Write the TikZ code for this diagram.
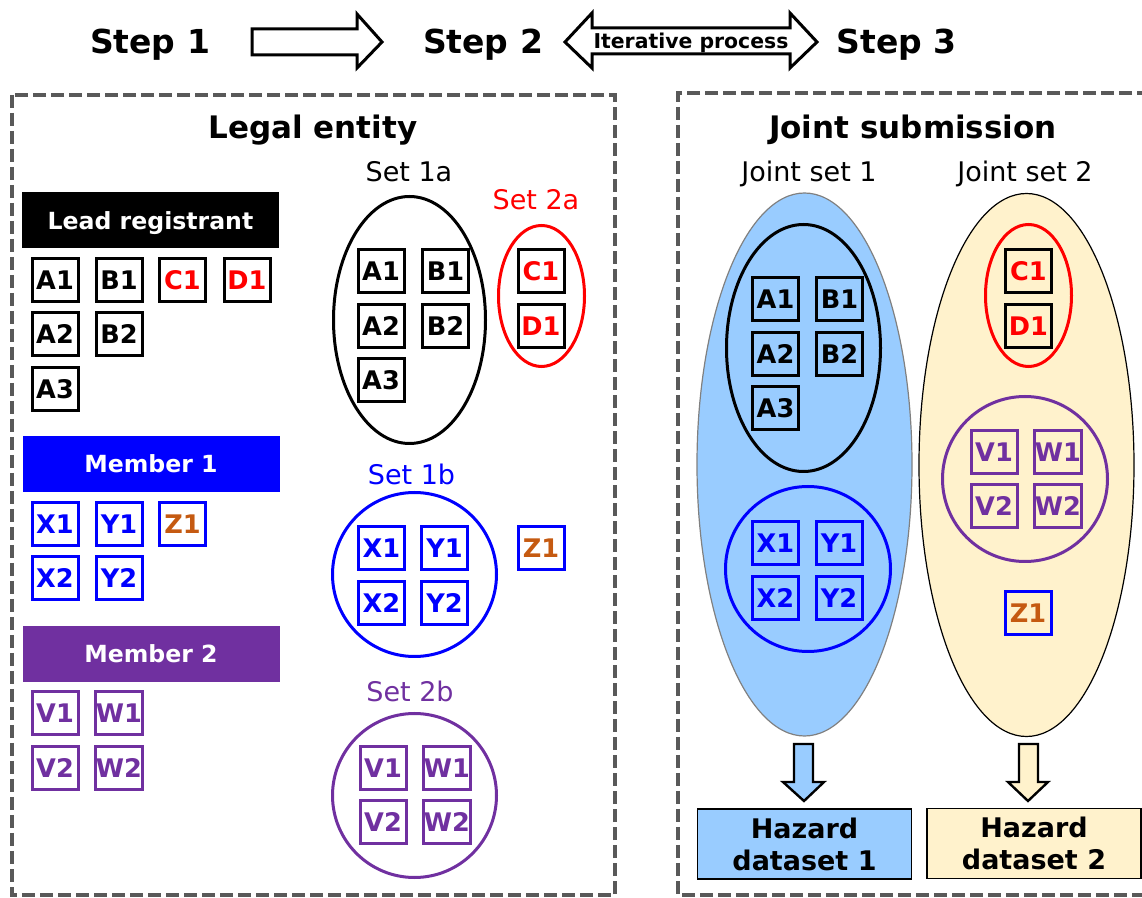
\documentclass[tikz,border=0pt]{standalone}
\usepackage{fontspec}
\setmainfont{DejaVu Sans}
\usetikzlibrary{shapes.geometric}

\definecolor{setblue}{HTML}{0000FF}
\definecolor{setred}{HTML}{FF0000}
\definecolor{setpurple}{HTML}{7030A0}
\definecolor{zorange}{HTML}{C55A11}
\definecolor{jointblue}{HTML}{99CCFF}
\definecolor{jointyellow}{HTML}{FFF2CC}
\definecolor{framegray}{HTML}{595959}

\tikzset{
  itm/.style={draw, line width=1.5pt, minimum width=23pt, minimum height=21.5pt, inner sep=0pt, font=\bfseries\fontsize{12.8}{13}\selectfont},
  bar/.style={minimum width=128.5pt, minimum height=28pt, inner sep=0pt, text depth=0pt, text=white, font=\bfseries\fontsize{11.8}{12}\selectfont},
  setlbl/.style={anchor=base, font=\fontsize{13.5}{14}\selectfont},
  grp/.style={draw, ellipse, line width=1.5pt, inner sep=0pt},
  bigset/.style={draw, ellipse, line width=0.6pt, inner sep=0pt, minimum width=107.5pt, minimum height=271.5pt},
  frame/.style={draw=framegray, line width=2pt, dash pattern=on 6.5pt off 2.5pt},
  steplbl/.style={anchor=base, font=\bfseries\fontsize{16.5}{18}\selectfont},
  heading/.style={anchor=base, font=\bfseries\fontsize{15.5}{17}\selectfont},
  blockarrow/.style={draw, line width=1.5pt, line join=miter},
  hazard/.style={draw, line width=0.6pt, minimum width=107pt, minimum height=35pt, inner sep=0pt, align=center, font=\bfseries\fontsize{13.5}{16}\selectfont}
}

\begin{document}
\begin{tikzpicture}[x=0.5pt, y=-0.5pt]
    \useasboundingbox (0,0) rectangle (1142,898);

    % steps
    \node[steplbl] (step1) at (150,54) {Step 1};
    \node[steplbl] (step2) at (483,54) {Step 2};
    \node[steplbl] (step3) at (896.5,54) {Step 3};
    \draw[blockarrow, fill=white] (252,29) -- (357,29) -- (357,14) -- (382,42) -- (357,68) -- (357,55) -- (252,55) -- cycle;
    \draw[blockarrow, fill=white] (565,42) -- (592,13) -- (592,28) -- (790,28) -- (790,13) -- (817,42) -- (790,68) -- (790,54) -- (592,54) -- (592,68) -- cycle;
    \node[text depth=0pt, font=\bfseries\fontsize{10.2}{11}\selectfont] (iter) at (691,41) {Iterative process};

    % frames
    \draw[frame] (12,95) rectangle (615,895);
    \draw[frame] (1150,93) -- (678,93) -- (678,895) -- (1150,895);
    \node[heading] (legal) at (313,139) {Legal entity};
    \node[heading] (joint) at (913,139) {Joint submission};

    % legal entity: registrants
    \node[bar, fill=black] (lead) at (150.5,220.5) {Lead registrant};
    \foreach \n/\x/\y in {A1/55/280, B1/119/280, A2/55/334.5, B2/119/334.5, A3/55/389}
      \node[itm] (l\n) at (\x,\y) {\n};
    \node[itm, text=setred] (lC1) at (182.5,280) {C1};
    \node[itm, text=setred] (lD1) at (247,280) {D1};

    \node[bar, fill=setblue] (mem1) at (151,464) {Member 1};
    \foreach \n/\x/\y in {X1/55/524, Y1/119/524, X2/55/578.5, Y2/119/578.5}
      \node[itm, draw=setblue, text=setblue] (l\n) at (\x,\y) {\n};
    \node[itm, draw=setblue, text=zorange] (lZ1) at (182.5,524) {Z1};

    \node[bar, fill=setpurple] (mem2) at (151,654) {Member 2};
    \foreach \n/\x/\y in {V1/55/713, W1/119/713, V2/55/768, W2/119/768}
      \node[itm, draw=setpurple, text=setpurple] (l\n) at (\x,\y) {\n};

    % legal entity: sets
    \node[setlbl] (lbl1a) at (409,182) {Set 1a};
    \node[grp, minimum width=76pt, minimum height=123.5pt] (set1a) at (409.5,320) {};
    \foreach \n/\x/\y in {A1/381/271.5, B1/445.5/271.5, A2/381/326, B2/445.5/326, A3/381/380.5}
      \node[itm] (s\n) at (\x,\y) {\n};

    \node[setlbl, text=setred] (lbl2a) at (536,210) {Set 2a};
    \node[grp, draw=setred, minimum width=43pt, minimum height=70.5pt] (set2a) at (541.5,296) {};
    \node[itm, text=setred] (sC1) at (541,271.5) {C1};
    \node[itm, text=setred] (sD1) at (541,326) {D1};

    \node[setlbl, text=setblue] (lbl1b) at (411.5,485) {Set 1b};
    \node[grp, draw=setblue, minimum size=82pt] (set1b) at (414.5,574.5) {};
    \foreach \n/\x/\y in {X1/381.5/548.5, Y1/444.5/548.5, X2/381.5/603.5, Y2/444.5/603.5}
      \node[itm, draw=setblue, text=setblue] (s\n) at (\x,\y) {\n};
    \node[itm, draw=setblue, text=zorange] (sZ1) at (541,548.5) {Z1};

    \node[setlbl, text=setpurple] (lbl2b) at (410,702) {Set 2b};
    \node[grp, draw=setpurple, minimum size=82pt] (set2b) at (414.5,795.5) {};
    \foreach \n/\x/\y in {V1/383/768, W1/447/768, V2/383/822, W2/447/822}
      \node[itm, draw=setpurple, text=setpurple] (s\n) at (\x,\y) {\n};

    % joint submission
    \node[setlbl] (lblj1) at (809,182) {Joint set 1};
    \node[setlbl] (lblj2) at (1025,182) {Joint set 2};
    \node[bigset, draw=gray, fill=jointblue] (jset1) at (804.5,464.5) {};
    \node[bigset, fill=jointyellow] (jset2) at (1026.5,465) {};

    \node[grp, minimum width=77pt, minimum height=123.5pt] (j1a) at (803.5,348) {};
    \foreach \n/\x/\y in {A1/775.5/299, B1/839.5/299, A2/775.5/354, B2/839.5/354, A3/775.5/408.5}
      \node[itm] (j\n) at (\x,\y) {\n};
    \node[grp, draw=setblue, minimum size=82.5pt] (j1b) at (808,569) {};
    \foreach \n/\x/\y in {X1/775.5/543, Y1/839/543, X2/775.5/598, Y2/839/598}
      \node[itm, draw=setblue, text=setblue] (j\n) at (\x,\y) {\n};

    \node[grp, draw=setred, minimum width=43pt, minimum height=71pt] (j2a) at (1028.5,295.5) {};
    \node[itm, text=setred] (jC1) at (1028.5,271) {C1};
    \node[itm, text=setred] (jD1) at (1028.5,326) {D1};
    \node[grp, draw=setpurple, minimum size=82.5pt] (j2b) at (1025,479) {};
    \foreach \n/\x/\y in {V1/994/452, W1/1058/452, V2/994/506.5, W2/1058/506.5}
      \node[itm, draw=setpurple, text=setpurple] (j\n) at (\x,\y) {\n};
    \node[itm, draw=setblue, text=zorange] (jZ1) at (1028,613) {Z1};

    % datasets
    \draw[blockarrow, line width=1.2pt, fill=jointblue] (794,744) -- (813,744) -- (813,782) -- (824,782) -- (804,801) -- (783,782) -- (794,782) -- cycle;
    \draw[blockarrow, line width=1.2pt, fill=jointyellow] (1019,744) -- (1038,744) -- (1038,782) -- (1048,782) -- (1028,801) -- (1008,782) -- (1019,782) -- cycle;
    \node[hazard, fill=jointblue] (haz1) at (804.5,844) {Hazard\\dataset 1};
    \node[hazard, fill=jointyellow] (haz2) at (1034,843.5) {Hazard\\dataset 2};
\end{tikzpicture}
\end{document}
